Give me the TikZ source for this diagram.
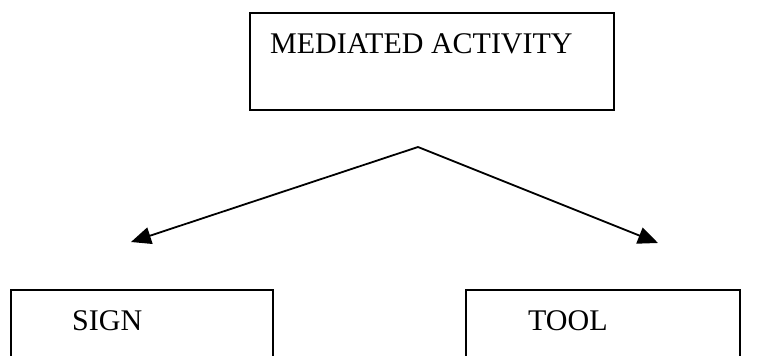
\documentclass[tikz,border=0pt]{standalone}
\usepackage{fontspec}
\setmainfont{Liberation Serif}
\usetikzlibrary{arrows.meta}
\begin{document}
\begin{tikzpicture}[x=1pt,y=-1pt,
  boxline/.style={line width=1.8pt},
  label/.style={inner sep=0pt,anchor=base west,font=\fontsize{30}{30}\selectfont},
  link/.style={line width=1.8pt,-{Triangle[length=20pt,width=17pt]}}]
  \useasboundingbox (0,0) rectangle (766,356);
  \begin{scope}
    \clip (0,0) rectangle (766,356);
    % top box
    \draw[boxline] (250,13) rectangle (614,110);
    \node[label] (top) at (270,53) {MEDIATED ACTIVITY};
    % bottom boxes, open at the lower edge
    \draw[boxline] (11,370) -- (11,290) -- (273,290) -- (273,370);
    \draw[boxline] (466,370) -- (466,290) -- (740,290) -- (740,370);
    \node[label] (sign) at (72,330) {SIGN};
    \node[label] (tool) at (528,330) {TOOL};
    % arrows
    \coordinate (apex) at (418,147);
    \coordinate (ltip) at (131,242);
    \coordinate (rtip) at (658,243);
    \draw[link] (apex) -- (ltip);
    \draw[link] (apex) -- (rtip);
  \end{scope}
\end{tikzpicture}
\end{document}
